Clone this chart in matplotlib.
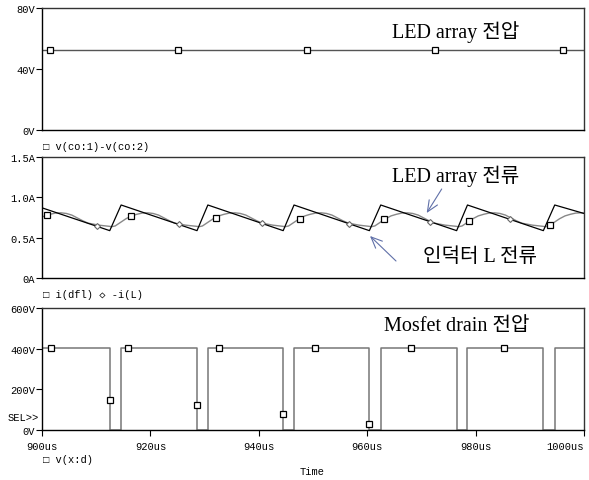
import matplotlib
matplotlib.use("Agg")
import matplotlib.pyplot as plt

##### data #####
# top: v(co:1)-v(co:2)
t_led_v = [900, 1000]
v_led = [52.7, 52.7]
t_led_v_mark = [901.5, 925.1, 948.9, 972.5, 996.1]
v_led_mark = [52.7, 52.7, 52.7, 52.7, 52.7]

# middle: -i(L) (triangle) and i(dfl) (smoothed LED current)
t_il = [900, 912.5, 914.6, 928.6, 930.6, 944.5, 946.5, 960.4, 962.5,
        976.5, 978.5, 992.5, 994.6, 1000]
i_l = [0.87, 0.587, 0.905, 0.587, 0.905, 0.587, 0.905, 0.587, 0.905,
       0.587, 0.905, 0.587, 0.905, 0.80]
t_il_mark = [910.1, 925.2, 940.5, 956.6, 971.6, 986.3]
i_l_mark = [0.64, 0.665, 0.68, 0.675, 0.70, 0.73]

t_dfl = [900.0, 900.5, 901.5, 902.5, 903.5, 904.5, 905.5, 906.5, 907.5, 908.5, 910.5,
         912.5, 912.8, 913.5, 914.5, 915.5, 916.5, 917.5, 918.5, 919.5, 920.5, 921.5, 922.5, 923.5, 924.5, 926.5,
         928.6, 928.9, 929.6, 930.6, 931.6, 932.6, 933.6, 934.6, 935.6, 936.6, 937.6, 938.6, 939.6, 940.6, 942.6,
         944.5, 944.8, 945.5, 946.5, 947.5, 948.5, 949.5, 950.5, 951.5, 952.5, 953.5, 954.5, 955.5, 956.5, 958.5,
         960.4, 960.7, 961.4, 962.4, 963.4, 964.4, 965.4, 966.4, 967.4, 968.4, 969.4, 970.4, 971.4, 972.4, 974.4,
         976.5, 976.8, 977.5, 978.5, 979.5, 980.5, 981.5, 982.5, 983.5, 984.5, 985.5, 986.5, 987.5, 988.5, 990.5,
         992.5, 992.8, 993.5, 994.5, 995.5, 996.5, 997.5, 998.5, 999.5, 1000.0]
i_dfl = [0.755, 0.77, 0.79, 0.805, 0.808, 0.80, 0.78, 0.745, 0.71, 0.68, 0.655,
         0.64, 0.635, 0.645, 0.69, 0.735, 0.77, 0.79, 0.805, 0.808, 0.80, 0.78, 0.745, 0.71, 0.68, 0.655,
         0.64, 0.635, 0.645, 0.69, 0.735, 0.77, 0.79, 0.805, 0.808, 0.80, 0.78, 0.745, 0.71, 0.68, 0.655,
         0.64, 0.635, 0.645, 0.69, 0.735, 0.77, 0.79, 0.805, 0.808, 0.80, 0.78, 0.745, 0.71, 0.68, 0.655,
         0.64, 0.635, 0.645, 0.69, 0.735, 0.77, 0.79, 0.805, 0.808, 0.80, 0.78, 0.745, 0.71, 0.68, 0.655,
         0.64, 0.635, 0.645, 0.69, 0.735, 0.77, 0.79, 0.805, 0.808, 0.80, 0.78, 0.745, 0.71, 0.68, 0.655,
         0.64, 0.635, 0.645, 0.69, 0.735, 0.77, 0.79, 0.805, 0.808, 0.805]
t_dfl_mark = [900.9, 916.5, 932.1, 947.6, 963.1, 978.8, 993.7]
i_dfl_mark = [0.78, 0.77, 0.75, 0.73, 0.73, 0.71, 0.66]

# bottom: v(x:d)
t_drain = [900, 912.5, 912.5, 914.6, 914.6, 928.6, 928.6, 930.6, 930.6,
           944.5, 944.5, 946.5, 946.5, 960.4, 960.4, 962.5, 962.5,
           976.5, 976.5, 978.5, 978.5, 992.5, 992.5, 994.6, 994.6, 1000]
v_drain = [405, 405, 0, 0, 405, 405, 0, 0, 405,
           405, 0, 0, 405, 405, 0, 0, 405,
           405, 0, 0, 405, 405, 0, 0, 405, 405]
t_drain_mark = [901.7, 912.5, 915.8, 928.6, 932.7, 944.5, 950.3, 960.4, 968.1, 985.3]
v_drain_mark = [405, 149, 405, 123, 405, 80, 405, 30, 405, 405]

x_ticks = [900, 920, 940, 960, 980, 1000]
x_labels = ["900us", "920us", "940us", "960us", "980us", "1000us"]
top_ticks = [0, 40, 80]
top_labels = ["0V", "40V", "80V"]
mid_ticks = [0, 0.5, 1.0, 1.5]
mid_labels = ["0A", "0.5A", "1.0A", "1.5A"]
bot_ticks = [0, 200, 400, 600]
bot_labels = ["0V", "200V", "400V", "600V"]
##################################################

W, H = 589, 481
MONO = ["Liberation Mono", "DejaVu Sans Mono"]
KOR = ["Liberation Serif", "Noto Sans CJK KR"]
ARROW = "#6070a8"

fig = plt.figure(figsize=(W / 100, H / 100), dpi=100)


def px_axes(x0, y0, x1, y1):
    return fig.add_axes([x0 / W, 1 - y1 / H, (x1 - x0) / W, (y1 - y0) / H])


def ftext(x, y, s, **kw):
    fig.text(x / W, 1 - y / H, s, **kw)


def style(ax, yt, yl, ylim, show_x=False):
    ax.set_xlim(900, 1000)
    ax.set_ylim(*ylim)
    ax.set_yticks(yt)
    ax.set_yticklabels(yl, family=MONO, fontsize=7.5)
    ax.tick_params(axis="y", direction="out", length=4, width=0.8, pad=1)
    if show_x:
        ax.set_xticks(x_ticks)
        ax.set_xticklabels(x_labels, family=MONO, fontsize=7.5)
        ax.get_xticklabels()[-1].set_ha("right")
        ax.tick_params(axis="x", direction="out", length=4, width=0.8, pad=4)
    else:
        ax.set_xticks([])
    for s in ax.spines.values():
        s.set_linewidth(1.0)
        s.set_color("#333333")
    ax.spines["left"].set_color("black")
    ax.spines["bottom"].set_color("black")


ax1 = px_axes(42, 9, 584, 131)
ax1.plot(t_led_v, v_led, color="#555555", lw=1.0)
ax1.plot(t_led_v_mark, v_led_mark, ls="none", marker="s", ms=4, mfc="white",
         mec="black", mew=0.9)
style(ax1, top_ticks, top_labels, (0, 80))
ax1.text(0.645, 0.81, "LED array 전압", transform=ax1.transAxes, family=KOR,
         fontsize=14.5, va="center", ha="left")

ax2 = px_axes(42, 158, 584, 279)
ax2.plot(t_dfl, i_dfl, color="#888888", lw=1.0)
ax2.plot(t_il, i_l, color="black", lw=0.9)
ax2.plot(t_dfl_mark, i_dfl_mark, ls="none", marker="s", ms=5, mfc="white",
         mec="black", mew=0.9)
ax2.plot(t_il_mark, i_l_mark, ls="none", marker="D", ms=3, mfc="white",
         mec="#666666", mew=0.8)
style(ax2, mid_ticks, mid_labels, (0, 1.5))

ax3 = px_axes(42, 309, 584, 431)
ax3.plot(t_drain, v_drain, color="#777777", lw=1.1)
ax3.plot(t_drain_mark, v_drain_mark, ls="none", marker="s", ms=5, mfc="white",
         mec="black", mew=0.9)
style(ax3, bot_ticks, bot_labels, (0, 600), show_x=True)

# annotations
ftext(392, 176, "LED array 전류", family=KOR, fontsize=14.5, va="center")
ftext(423, 258, "인덕터 L 전류", family=KOR, fontsize=14.5, va="center")
ftext(384, 327, "Mosfet drain 전압", family=KOR, fontsize=14.5, va="center")

fig.add_artist(matplotlib.patches.FancyArrowPatch(
    (441.7 / W, 1 - 190 / H), (426.7 / W, 1 - 214 / H), transform=fig.transFigure,
    arrowstyle="->,head_length=8,head_width=3.5", color=ARROW, lw=0.8,
    shrinkA=0, shrinkB=0))
fig.add_artist(matplotlib.patches.FancyArrowPatch(
    (396 / W, 1 - 262 / H), (370 / W, 1 - 237 / H), transform=fig.transFigure,
    arrowstyle="->,head_length=8,head_width=3.5", color=ARROW, lw=0.8,
    shrinkA=0, shrinkB=0))

# legends / labels in PSpice style
ftext(43, 147, "□ v(co:1)-v(co:2)", family=MONO, fontsize=7.5, va="center")
ftext(43, 295, "□ i(dfl) ◇ -i(L)", family=MONO, fontsize=7.5, va="center")
ftext(43, 460, "□ v(x:d)", family=MONO, fontsize=7.5, va="center")
ftext(300, 472, "Time", family=MONO, fontsize=7.5, va="center")
ftext(39, 418, "SEL>>", family=MONO, fontsize=7.5, va="center", ha="right")

fig.savefig("out.png", dpi=100)
